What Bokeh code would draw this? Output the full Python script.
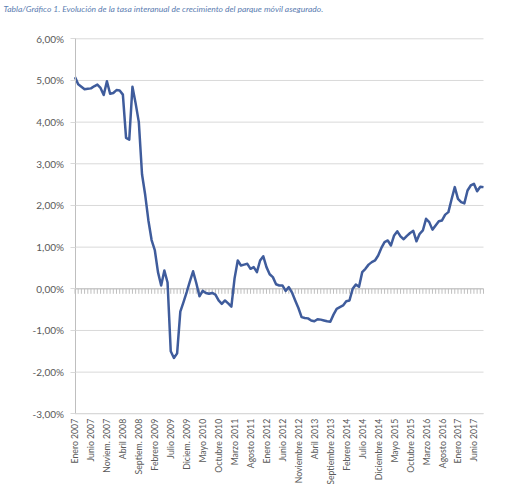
from bokeh.plotting import figure
from bokeh.models import Range1d, FixedTicker, Label
from bokeh.embed import file_html
from bokeh.resources import INLINE
from math import pi

title_text = "Tabla/Gráfico 1. Evolución de la tasa interanual de crecimiento del parque móvil asegurado."

# monthly year-on-year growth (%), Jan 2007 .. Sep 2017
values = [
    5.08, 4.91, 4.85, 4.79, 4.80, 4.81, 4.86, 4.90, 4.82, 4.65,
    4.98, 4.68, 4.70, 4.77, 4.76, 4.66, 3.62, 3.58, 4.85, 4.45,
    4.00, 2.75, 2.25, 1.64, 1.17, 0.93, 0.40, 0.08, 0.44, 0.15,
    -1.50, -1.66, -1.55, -0.55, -0.32, -0.08, 0.18, 0.42, 0.14, -0.18,
    -0.05, -0.10, -0.12, -0.10, -0.14, -0.28, -0.36, -0.28, -0.35, -0.43,
    0.25, 0.68, 0.56, 0.58, 0.60, 0.48, 0.52, 0.40, 0.68, 0.78,
    0.52, 0.35, 0.28, 0.11, 0.08, 0.08, -0.05, 0.04, -0.09, -0.28,
    -0.46, -0.68, -0.70, -0.71, -0.76, -0.78, -0.73, -0.74, -0.76, -0.78,
    -0.79, -0.62, -0.48, -0.44, -0.40, -0.30, -0.28, 0.00, 0.10, 0.05,
    0.40, 0.48, 0.58, 0.64, 0.68, 0.80, 0.98, 1.12, 1.16, 1.04,
    1.28, 1.38, 1.26, 1.19, 1.27, 1.34, 1.39, 1.14, 1.32, 1.40,
    1.68, 1.60, 1.42, 1.52, 1.62, 1.64, 1.78, 1.84, 2.15, 2.44,
    2.16, 2.08, 2.05, 2.36, 2.48, 2.52, 2.34, 2.45, 2.44,
]

x_tick_labels = [
    "Enero 2007", "Junio 2007", "Noviem. 2007", "Abril 2008", "Septiem. 2008",
    "Febrero 2009", "Julio 2009", "Diciem. 2009", "Mayo 2010", "Octubre 2010",
    "Marzo 2011", "Agosto 2011", "Enero 2012", "Junio 2012", "Noviembre 2012",
    "Abril 2013", "Septiembre 2013", "Febrero 2014", "Julio 2014", "Diciembre 2014",
    "Mayo 2015", "Octubre 2015", "Marzo 2016", "Agosto 2016", "Enero 2017",
    "Junio 2017",
]
x_tick_step = 5

y_ticks = [-3, -2, -1, 0, 1, 2, 3, 4, 5, 6]
y_tick_labels = ["-3,00%", "-2,00%", "-1,00%", "0,00%", "1,00%", "2,00%",
                 "3,00%", "4,00%", "5,00%", "6,00%"]

months = list(range(len(values)))
x_ticks = [i * x_tick_step for i in range(len(x_tick_labels))]
n_last = len(values) - 1

FONT = "Lato"
GREY = "#595959"
GRID = "#d9d9d9"
AXIS = "#bfbfbf"
W, H = 494, 484
# plot area in canvas pixels (left, right, top, bottom)
PL, PR, PT, PB = 74.5, 483.0, 38.3, 413.3

# the frame covers the whole canvas; ranges are widened so that the data area
# lands on the plot rectangle and the axes (pinned with fixed_location) sit inside
px_x = (PR - PL) / n_last
px_y = (PB - PT) / (y_ticks[-1] - y_ticks[0])
x_range = Range1d(-PL / px_x, n_last + (W - PR) / px_x)
y_range = Range1d(y_ticks[0] - (H - PB) / px_y, y_ticks[-1] + PT / px_y)

p = figure(width=W, height=H, output_backend="svg", toolbar_location=None,
           x_range=x_range, y_range=y_range,
           min_border_left=0, min_border_right=0, min_border_top=0, min_border_bottom=0)
p.outline_line_color = None
p.background_fill_color = "white"
p.grid.visible = False

# horizontal gridlines across the plot area
p.segment(x0=[0] * len(y_ticks), y0=y_ticks, x1=[n_last] * len(y_ticks), y1=y_ticks,
          line_color=GRID, line_width=1)

# y axis pinned at the first month
p.yaxis.fixed_location = 0
p.yaxis.bounds = (y_ticks[0], y_ticks[-1])
p.yaxis.ticker = FixedTicker(ticks=y_ticks)
p.yaxis.major_label_overrides = {t: l for t, l in zip(y_ticks, y_tick_labels)}
p.yaxis.axis_line_color = AXIS
p.yaxis.major_tick_line_color = GRID
p.yaxis.major_tick_out = 5
p.yaxis.major_tick_in = 0
p.yaxis.minor_tick_line_color = None
p.yaxis.major_label_standoff = 6
p.yaxis.major_label_text_font = FONT
p.yaxis.major_label_text_font_size = "10px"
p.yaxis.major_label_text_color = GREY

# x axis pinned at the bottom of the value scale
p.xaxis.fixed_location = y_ticks[0]
p.xaxis.bounds = (0, n_last)
p.xaxis.ticker = FixedTicker(ticks=x_ticks)
p.xaxis.major_label_overrides = {t: l for t, l in zip(x_ticks, x_tick_labels)}
p.xaxis.major_label_orientation = pi / 2
p.xaxis.axis_line_color = GRID
p.xaxis.major_tick_line_color = None
p.xaxis.major_tick_out = 0
p.xaxis.major_tick_in = 0
p.xaxis.minor_tick_line_color = None
p.xaxis.major_label_standoff = 5
p.xaxis.major_label_text_font = FONT
p.xaxis.major_label_text_font_size = "8.7px"
p.xaxis.major_label_text_color = GREY

# category axis line at zero with a tick per month
p.segment(x0=[0], y0=[0], x1=[n_last], y1=[0], line_color=AXIS, line_width=1)
tick_len = 5 / px_y
p.segment(x0=months, y0=[0] * len(months), x1=months, y1=[-tick_len] * len(months),
          line_color=AXIS, line_width=1)

# data line
p.line(months, values, line_color="#3F5C9C", line_width=2.5, line_join="round")

# title (screen units measured from the frame, which is the whole canvas)
p.add_layout(Label(x=3, y=H - 3, x_units="screen", y_units="screen",
                   text=title_text, text_font=FONT, text_font_style="italic",
                   text_font_size="8.5px", text_color="#5B7DB1", text_baseline="top"))

open("out.html", "w").write(file_html(p, INLINE))
